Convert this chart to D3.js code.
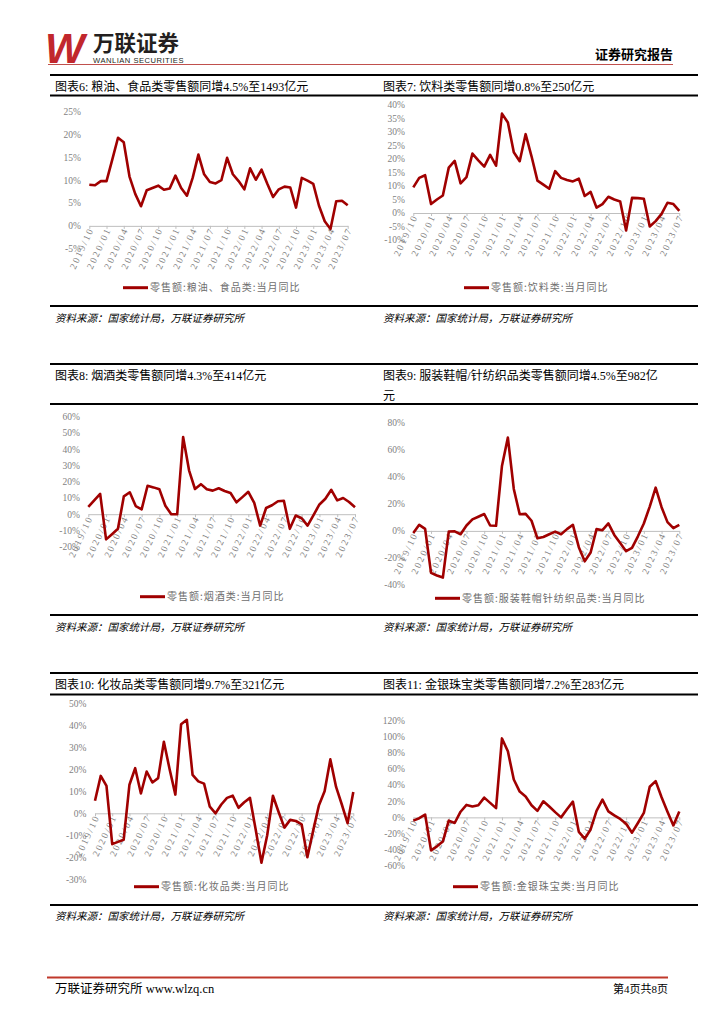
<!DOCTYPE html>
<html lang="zh">
<head>
<meta charset="UTF-8">
<title>社零分品类当月同比</title>
<script src="https://cdn.jsdelivr.net/npm/d3@7/dist/d3.min.js"></script>
<style>
  body { margin: 0; background: #fff; }
  svg text { font-family: "Liberation Serif", "Noto Sans CJK SC", serif; }
</style>
</head>
<body>
<div id="root"></div>
<script>
// month labels, one per point (2019/10 .. 2023/07)
const months = [
  "2019/10","2019/11","2019/12",
  "2020/01","2020/02","2020/03","2020/04","2020/05","2020/06","2020/07","2020/08","2020/09","2020/10","2020/11","2020/12",
  "2021/01","2021/02","2021/03","2021/04","2021/05","2021/06","2021/07","2021/08","2021/09","2021/10","2021/11","2021/12",
  "2022/01","2022/02","2022/03","2022/04","2022/05","2022/06","2022/07","2022/08","2022/09","2022/10","2022/11","2022/12",
  "2023/01","2023/02","2023/03","2023/04","2023/05","2023/06","2023/07"
];

// 当月同比, %
const grainFood = [9.0, 8.9, 9.8, 9.8, 14.5, 19.3, 18.3, 10.8, 7.0, 4.3, 7.8, 8.3, 8.8, 7.9, 8.2,
  11.0, 8.3, 6.6, 10.5, 15.6, 11.3, 9.6, 9.3, 10.0, 14.9, 11.3, 9.8,
  8.0, 12.6, 10.1, 12.3, 9.2, 6.3, 8.0, 8.6, 8.4, 4.0, 10.5, 9.9,
  9.2, 4.4, 1.0, -0.7, 5.4, 5.5, 4.5];
const beverage = [9.5, 13.0, 14.0, 3.3, 5.0, 6.5, 16.8, 19.3, 11.0, 13.3, 22.0, 19.5, 17.2, 21.5, 17.5,
  36.8, 33.5, 22.5, 19.2, 29.2, 21.0, 12.0, 10.5, 9.0, 15.5, 13.0, 12.2,
  11.7, 12.7, 6.3, 7.8, 2.0, 3.3, 6.0, 5.0, 4.3, -6.5, 5.6, 5.5,
  5.3, -5.0, -3.0, -0.3, 3.8, 3.3, 0.8];
const tobacco = [4.5, 8.5, 12.5, -15.5, -12.3, -9.0, 11.0, 13.5, 5.0, 3.0, 17.5, 16.5, 15.3, 5.2, 0.0,
  0.0, 47.5, 27.0, 15.5, 18.5, 15.3, 14.5, 16.0, 14.3, 13.0, 7.3, 10.5,
  13.8, 7.0, -7.0, 3.8, 5.5, 8.0, 8.3, -9.0, -0.8, -2.5, -7.0, -0.5,
  6.0, 9.5, 15.0, 8.5, 10.0, 7.5, 4.3];
const clothing = [-1.5, 4.5, 1.5, -31.0, -33.0, -34.5, -0.5, -0.3, -2.5, 4.0, 8.5, 10.5, 12.5, 4.0, 3.8,
  48.0, 69.0, 31.0, 12.3, 12.6, 7.5, -5.5, -4.5, -2.5, -0.5, -2.5, 1.3,
  4.5, -12.0, -22.5, -16.0, 1.3, 0.5, 5.5, -3.0, -9.0, -15.0, -12.5, -4.0,
  5.5, 18.0, 32.0, 17.5, 6.5, 2.0, 4.5];
const cosmetics = [5.7, 17.0, 12.5, -14.0, -13.0, -12.0, 13.0, 20.5, 9.0, 19.0, 14.0, 16.0, 32.5, 20.0, 8.5,
  40.5, 42.5, 17.5, 14.5, 13.5, 3.0, 0.0, 4.0, 7.0, 8.0, 2.5, 5.0,
  7.0, -7.5, -22.5, -10.0, 8.0, 0.5, -6.5, -3.0, -3.5, -5.0, -20.0, -8.0,
  3.5, 10.0, 24.5, 12.0, 4.0, -4.5, 9.7];
const jewelry = [-4.0, -1.0, 3.5, -41.0, -36.0, -30.0, -4.0, -7.0, 7.0, 15.5, 13.5, 15.0, 24.5, 18.0, 11.5,
  98.0, 82.0, 47.0, 32.0, 26.0, 15.0, 8.0, 20.0, 13.5, 6.5, 0.0, 10.0,
  19.5, -18.0, -26.5, -15.0, 8.0, 22.0, 7.5, 2.5, -2.0, -8.0, -19.0, -7.0,
  5.5, 38.0, 45.0, 25.0, 7.0, -10.0, 7.2];

// y tick labels per chart
const ticks6 = [-5, 0, 5, 10, 15, 20, 25];
const ticks7 = [-10, -5, 0, 5, 10, 15, 20, 25, 30, 35, 40];
const ticks8 = [-20, -10, 0, 10, 20, 30, 40, 50, 60];
const ticks9 = [-40, -20, 0, 20, 40, 60, 80];
const ticks10 = [-30, -20, -10, 0, 10, 20, 30, 40, 50];
const ticks11 = [-60, -40, -20, 0, 20, 40, 60, 80, 100, 120];

const titles = [
  "图表6: 粮油、食品类零售额同增4.5%至1493亿元",
  "图表7: 饮料类零售额同增0.8%至250亿元",
  "图表8: 烟酒类零售额同增4.3%至414亿元",
  "图表9: 服装鞋帽/针纺织品类零售额同增4.5%至982亿",
  "图表10: 化妆品类零售额同增9.7%至321亿元",
  "图表11: 金银珠宝类零售额同增7.2%至283亿元"
];
const legends = [
  "零售额:粮油、食品类:当月同比",
  "零售额:饮料类:当月同比",
  "零售额:烟酒类:当月同比",
  "零售额:服装鞋帽针纺织品类:当月同比",
  "零售额:化妆品类:当月同比",
  "零售额:金银珠宝类:当月同比"
];
const source = "资料来源：国家统计局，万联证券研究所";

const RED = "#a00000";

// layout of each panel
const panels = [
  {values: grainFood, ticks: ticks6, x0: 89.3, x1: 347.7, yTop: 111.7, yBot: 248.7, lx: 123, ly: 287.7},
  {values: beverage, ticks: ticks7, x0: 413.3, x1: 679.3, yTop: 105, yBot: 240, lx: 464, ly: 287.7},
  {values: tobacco, ticks: ticks8, x0: 88.3, x1: 355, yTop: 416.7, yBot: 546.7, lx: 140, ly: 596.7},
  {values: clothing, ticks: ticks9, x0: 413.3, x1: 679.3, yTop: 422.7, yBot: 585, lx: 435, ly: 598.3},
  {values: cosmetics, ticks: ticks10, x0: 95, x1: 353.3, yTop: 703.3, yBot: 879.3, lx: 134, ly: 886.7},
  {values: jewelry, ticks: ticks11, x0: 413.3, x1: 679.3, yTop: 720.7, yBot: 865.7, lx: 453, ly: 886.7}
];

const svg = d3.select('#root').append('svg')
  .attr('width', 724).attr('height', 1024)
  .attr('viewBox', '0 0 724 1024');

// ---- page header ----
svg.append('text').attr('x', 45).attr('y', 63)
  .attr('font-size', 42).attr('font-weight', 'bold').attr('font-style', 'italic')
  .style('font-family', '"Liberation Sans", sans-serif')
  .attr('fill', '#c1272d').text('W');
svg.append('text').attr('x', 93).attr('y', 50.5)
  .attr('font-size', 21.5).attr('font-weight', 'bold')
  .style('font-family', '"Noto Sans CJK SC", sans-serif')
  .attr('fill', '#231f20').text('万联证券');
svg.append('text').attr('x', 93).attr('y', 63)
  .attr('font-size', 7.6).attr('letter-spacing', 0.5)
  .style('font-family', '"Liberation Sans", sans-serif')
  .attr('fill', '#231f20').text('WANLIAN SECURITIES');
svg.append('line').attr('x1', 48).attr('x2', 673).attr('y1', 64.5).attr('y2', 64.5)
  .attr('stroke', '#c0504d').attr('stroke-width', 1);
svg.append('text').attr('x', 673).attr('y', 59).attr('text-anchor', 'end')
  .attr('font-size', 13).attr('font-weight', 'bold')
  .style('font-family', '"Noto Sans CJK SC", sans-serif')
  .text('证券研究报告');

// ---- table rules ----
const rules = [75, 95.5, 306, 364, 404, 615, 673, 694.5, 905];
svg.selectAll('.rule').data(rules).join('line')
  .attr('x1', 50).attr('x2', 698)
  .attr('y1', d => d).attr('y2', d => d)
  .attr('stroke', '#000').attr('stroke-width', 2);

// titles
const titlePos = [[55, 90.5], [383, 90.5], [55, 379.5], [383, 379.5], [55, 688.5], [383, 688.5]];
titles.forEach((t, i) => {
  svg.append('text').attr('x', titlePos[i][0]).attr('y', titlePos[i][1])
    .attr('font-size', 12).attr('fill', '#000').text(t);
});
svg.append('text').attr('x', 383).attr('y', 399.5).attr('font-size', 12).text('元');

// sources
[[55, 321.5], [383, 321.5], [55, 630.5], [383, 630.5], [55, 920], [383, 920]].forEach(p => {
  svg.append('text').attr('x', p[0]).attr('y', p[1])
    .attr('font-size', 10.5).attr('font-style', 'italic')
    .style('font-family', '"Noto Sans CJK SC", sans-serif')
    .attr('fill', '#000').text(source);
});

// ---- charts ----
panels.forEach((c, k) => {
  const g = svg.append('g');
  const x = d3.scaleLinear().domain([0, months.length - 1]).range([c.x0, c.x1]);
  const y = d3.scaleLinear()
    .domain([c.ticks[0], c.ticks[c.ticks.length - 1]])
    .range([c.yBot, c.yTop]);

  g.selectAll('.ylab').data(c.ticks).join('text')
    .attr('x', c.x0 - 8.5).attr('y', d => y(d)).attr('dy', '0.35em')
    .attr('text-anchor', 'end').attr('font-size', 9.5).attr('fill', '#7f7f7f')
    .text(d => d + '%');

  const axis = d3.axisBottom(x)
    .tickValues(d3.range(0, months.length, 3))
    .tickSize(3).tickSizeOuter(0)
    .tickFormat(i => months[i]);
  const ax = g.append('g').attr('transform', `translate(0,${y(0)})`).call(axis);
  ax.select('.domain').attr('stroke', '#bfbfbf');
  ax.selectAll('.tick line').attr('stroke', '#bfbfbf');
  ax.selectAll('.tick text')
    .attr('x', -1).attr('y', 2).attr('dy', '0.35em')
    .attr('text-anchor', 'end').attr('transform', 'rotate(-65)')
    .attr('font-size', 9.5).attr('letter-spacing', 2)
    .style('font-family', '"Liberation Serif", serif')
    .attr('fill', '#7f7f7f');

  const line = d3.line().x((d, i) => x(i)).y(d => y(d));
  g.append('path').datum(c.values)
    .attr('d', line).attr('fill', 'none')
    .attr('stroke', RED).attr('stroke-width', 2.6)
    .attr('stroke-linejoin', 'round');

  // legend
  g.append('line').attr('x1', c.lx).attr('x2', c.lx + 25)
    .attr('y1', c.ly).attr('y2', c.ly)
    .attr('stroke', RED).attr('stroke-width', 3);
  g.append('text').attr('x', c.lx + 27).attr('y', c.ly).attr('dy', '0.35em')
    .attr('font-size', 10).attr('letter-spacing', 1)
    .style('font-family', '"Noto Sans CJK SC", sans-serif')
    .attr('fill', '#6e6e6e').text(legends[k]);
});

// ---- footer ----
svg.append('line').attr('x1', 47).attr('x2', 668).attr('y1', 977.5).attr('y2', 977.5)
  .attr('stroke', '#c0392b').attr('stroke-width', 2);
svg.append('text').attr('x', 55).attr('y', 993).attr('font-size', 12.5)
  .text('万联证券研究所 www.wlzq.cn');
svg.append('text').attr('x', 668).attr('y', 993).attr('text-anchor', 'end')
  .attr('font-size', 11).text('第4页共8页');
</script>
</body>
</html>
